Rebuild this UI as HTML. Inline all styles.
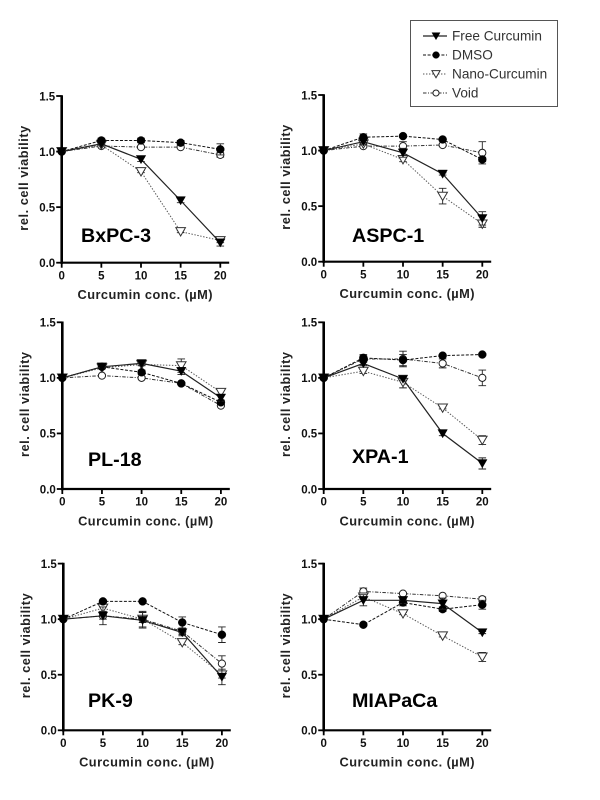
<!DOCTYPE html>
<html>
<head>
<meta charset="utf-8">
<title>Curcumin viability charts</title>
<style>
html,body{margin:0;padding:0;background:#fff;width:600px;height:800px;overflow:hidden}
svg{display:block;font-family:"Liberation Sans",sans-serif;filter:blur(0.35px)}
</style>
</head>
<body>
<svg id="figure" width="600" height="800" viewBox="0 0 600 800" xmlns="http://www.w3.org/2000/svg"></svg>
<script>
// Shared axis data
const concentrations = [0, 5, 10, 15, 20];
const xTickLabels = ["0", "5", "10", "15", "20"];
const yTicks = [0, 0.5, 1, 1.5];
const yTickLabels = ["0.0", "0.5", "1.0", "1.5"];
const seriesNames = ["Free Curcumin", "DMSO", "Nano-Curcumin", "Void"];

// BxPC-3
const bxFree = [1, 1.07, 0.93, 0.56, 0.18];
const bxDmso = [1, 1.10, 1.10, 1.08, 1.02];
const bxNano = [1, 1.06, 0.82, 0.28, 0.20];
const bxVoid = [1, 1.05, 1.04, 1.04, 0.97];
const bxFreeErr = [0, 0, 0.02, 0.02, 0.03];
const bxDmsoErr = [0, 0.02, 0.02, 0.02, 0.05];
const bxNanoErr = [0, 0, 0.01, 0.01, 0.02];
const bxVoidErr = [0, 0.01, 0.01, 0.01, 0.02];

// ASPC-1
const asFree = [1, 1.08, 0.98, 0.79, 0.39];
const asDmso = [1, 1.12, 1.13, 1.10, 0.92];
const asNano = [1, 1.06, 0.92, 0.59, 0.34];
const asVoid = [1, 1.04, 1.04, 1.05, 0.98];
const asFreeErr = [0, 0.02, 0.04, 0.01, 0.06];
const asDmsoErr = [0, 0.03, 0.01, 0.01, 0.02];
const asNanoErr = [0, 0.01, 0.02, 0.07, 0.03];
const asVoidErr = [0, 0.01, 0.04, 0.01, 0.10];

// PL-18
const plFree = [1, 1.10, 1.13, 1.06, 0.82];
const plDmso = [1, 1.10, 1.05, 0.95, 0.78];
const plNano = [1, 1.09, 1.12, 1.11, 0.87];
const plVoid = [1, 1.02, 1.00, 0.95, 0.75];
const plFreeErr = [0, 0.01, 0.02, 0.03, 0.03];
const plDmsoErr = [0, 0.01, 0.02, 0.01, 0.02];
const plNanoErr = [0, 0.01, 0.01, 0.06, 0.02];
const plVoidErr = [0, 0.01, 0.01, 0.01, 0.01];

// XPA-1
const xpFree = [1, 1.13, 0.99, 0.50, 0.23];
const xpDmso = [1, 1.18, 1.16, 1.20, 1.21];
const xpNano = [1, 1.06, 0.96, 0.73, 0.44];
const xpVoid = [1, 1.17, 1.17, 1.13, 1.00];
const xpFreeErr = [0, 0.02, 0.01, 0.02, 0.05];
const xpDmsoErr = [0, 0.03, 0.05, 0.01, 0.01];
const xpNanoErr = [0, 0.02, 0.05, 0.01, 0.04];
const xpVoidErr = [0, 0.03, 0.07, 0.04, 0.07];

// PK-9
const pkFree = [1, 1.03, 0.99, 0.88, 0.48];
const pkDmso = [1, 1.16, 1.16, 0.97, 0.86];
const pkNano = [1, 1.10, 1.00, 0.79, 0.50];
const pkVoid = [1, 1.03, 1.00, 0.89, 0.60];
const pkFreeErr = [0, 0.08, 0.07, 0.03, 0.07];
const pkDmsoErr = [0, 0.01, 0.01, 0.05, 0.07];
const pkNanoErr = [0, 0.03, 0.03, 0.02, 0.03];
const pkVoidErr = [0, 0.03, 0.07, 0.03, 0.07];

// MIAPaCa
const miFree = [1, 1.17, 1.17, 1.14, 0.88];
const miDmso = [1, 0.95, 1.15, 1.09, 1.13];
const miNano = [1, 1.20, 1.05, 0.85, 0.66];
const miVoid = [1, 1.25, 1.23, 1.21, 1.18];
const miFreeErr = [0, 0.05, 0.03, 0.05, 0.01];
const miDmsoErr = [0, 0.01, 0.03, 0.02, 0.04];
const miNanoErr = [0, 0.02, 0.01, 0.01, 0.04];
const miVoidErr = [0, 0.03, 0.01, 0.01, 0.02];

const NS = "http://www.w3.org/2000/svg";
const figure = document.getElementById("figure");

const panels = [
  {title:"BxPC-3",  left:61.7,  bottom:262.7, titleX:81,  titleY:242, values:[bxFree,bxDmso,bxNano,bxVoid], errors:[bxFreeErr,bxDmsoErr,bxNanoErr,bxVoidErr]},
  {title:"ASPC-1",  left:323.7, bottom:261.7, titleX:352, titleY:242, values:[asFree,asDmso,asNano,asVoid], errors:[asFreeErr,asDmsoErr,asNanoErr,asVoidErr]},
  {title:"PL-18",   left:62.3,  bottom:489,   titleX:88,  titleY:466, values:[plFree,plDmso,plNano,plVoid], errors:[plFreeErr,plDmsoErr,plNanoErr,plVoidErr]},
  {title:"XPA-1",   left:323.7, bottom:489,   titleX:352, titleY:463, values:[xpFree,xpDmso,xpNano,xpVoid], errors:[xpFreeErr,xpDmsoErr,xpNanoErr,xpVoidErr]},
  {title:"PK-9",    left:63.3,  bottom:730.3, titleX:88,  titleY:707, values:[pkFree,pkDmso,pkNano,pkVoid], errors:[pkFreeErr,pkDmsoErr,pkNanoErr,pkVoidErr]},
  {title:"MIAPaCa", left:323.7, bottom:730.3, titleX:352, titleY:707, values:[miFree,miDmso,miNano,miVoid], errors:[miFreeErr,miDmsoErr,miNanoErr,miVoidErr]}
];

const styles = [
  {stroke:"#222", width:1.2, dash:"", marker:"tri", fill:"#000", mstroke:"#000"},
  {stroke:"#111", width:1,   dash:"3 1.6", marker:"circle", fill:"#000", mstroke:"#000"},
  {stroke:"#555", width:1,   dash:"1.4 1.6", marker:"tri", fill:"#fff", mstroke:"#333"},
  {stroke:"#333", width:1,   dash:"3.5 1.5 1 1.5", marker:"circle", fill:"#fff", mstroke:"#222"}
];

// Painted back to front so the filled markers sit above the open ones.
const paintOrder = [3, 2, 1, 0];

function add(parent, tag, props, name) {
  const el = document.createElementNS(NS, tag);
  for (const k in props) el.setAttribute(k, props[k]);
  
  
  parent.appendChild(el);
  return el;
}

function addText(parent, str, props, name) {
  const el = add(parent, "text", props, name);
  el.textContent = str;
  return el;
}

function drawMarker(g, st, x, y, name, scale) {
  const s = scale || 1;
  if (st.marker === "tri") {
    const w = 4.8 * s, up = 3.9 * s, dn = 4.4 * s;
    add(g, "polygon", {points:`${x-w},${y-up} ${x+w},${y-up} ${x},${y+dn}`, fill:st.fill, stroke:st.mstroke, "stroke-width":st.fill === "#fff" ? 1 : 0.4}, name);
  } else {
    const r = (st.fill === "#fff" ? 3.6 : 4) * s;
    add(g, "circle", {cx:x, cy:y, r:r, fill:st.fill, stroke:st.mstroke, "stroke-width":st.fill === "#fff" ? 1 : 0.4}, name);
  }
}

function drawPanel(p) {
  const plotWidth = 158.6, plotHeight = 166.7, xEnd = 167.5;
  const xScale = v => p.left + (v / 20) * plotWidth;
  const yScale = v => p.bottom - (v / 1.5) * plotHeight;
  const slug = p.title.toLowerCase();

  const g = add(figure, "g", {}, "chart-" + slug);

  // series
  paintOrder.forEach(si => {
    const st = styles[si];
    const sname = seriesNames[si].toLowerCase().replace(/\s+/g, "-");
    const vals = p.values[si], errs = p.errors[si];
    const sg = add(g, "g", {}, "series-" + sname);
    const pts = concentrations.map((c, i) => xScale(c).toFixed(1) + "," + yScale(vals[i]).toFixed(1)).join(" ");
    const lineProps = {points:pts, fill:"none", stroke:st.stroke, "stroke-width":st.width};
    if (st.dash) lineProps["stroke-dasharray"] = st.dash;
    add(sg, "polyline", lineProps, "line-" + sname);
    concentrations.forEach((c, i) => {
      const x = xScale(c), top = yScale(vals[i] + errs[i]), bot = yScale(vals[i] - errs[i]);
      if (errs[i] > 0) {
        add(sg, "path", {d:`M${x-3.8} ${top}H${x+3.8}M${x} ${top}V${bot}M${x-3.8} ${bot}H${x+3.8}`, fill:"none", stroke:"#222", "stroke-width":0.9}, "error-bar");
      }
    });
    concentrations.forEach((c, i) => {
      drawMarker(sg, st, xScale(c), yScale(vals[i]), "point-" + sname);
    });
  });

  // axes
  add(g, "line", {x1:p.left, y1:yScale(1.5) - 0.8, x2:p.left, y2:p.bottom + 1.2, stroke:"#000", "stroke-width":2.6}, "y-axis");
  add(g, "line", {x1:p.left - 1, y1:p.bottom, x2:p.left + xEnd, y2:p.bottom, stroke:"#000", "stroke-width":2.2}, "x-axis");

  yTicks.forEach((t, i) => {
    const y = yScale(t);
    add(g, "line", {x1:p.left - 5.5, y1:y, x2:p.left, y2:y, stroke:"#000", "stroke-width":1.8}, "y-tick");
    addText(g, yTickLabels[i], {x:p.left - 6.5, y:y + 4.3, "text-anchor":"end", "font-size":"11.5", "font-weight":"bold", fill:"#111"}, "y-tick-label");
  });
  concentrations.forEach((c, i) => {
    const x = xScale(c);
    add(g, "line", {x1:x, y1:p.bottom, x2:x, y2:p.bottom + 5, stroke:"#000", "stroke-width":1.8}, "x-tick");
    addText(g, xTickLabels[i], {x:x, y:p.bottom + 16.6, "text-anchor":"middle", "font-size":"11.5", "font-weight":"bold", fill:"#111"}, "x-tick-label");
  });

  // titles
  addText(g, "Curcumin conc. (µM)", {x:p.left + 83.3, y:p.bottom + 36.3, "text-anchor":"middle", "font-size":"12.8", "font-weight":"bold", fill:"#222", textLength:"135", lengthAdjust:"spacing"}, "x-axis-title");
  const tx = p.left - 33.5, ty = p.bottom - 84.5;
  addText(g, "rel. cell viability", {x:tx, y:ty, transform:`rotate(-90 ${tx} ${ty})`, "text-anchor":"middle", "font-size":"12.8", "font-weight":"bold", fill:"#222", textLength:"105", lengthAdjust:"spacing"}, "y-axis-title");
  addText(g, p.title, {x:p.titleX, y:p.titleY, "font-size":"19.7", "font-weight":"bold", fill:"#000"}, "cell-line-label");
}

panels.forEach(drawPanel);

// legend
const legend = add(figure, "g", {}, "legend");
add(legend, "rect", {x:410.5, y:20.5, width:147, height:86, fill:"#fff", stroke:"#555", "stroke-width":1}, "legend-box");
const legendRowGap = 19;
seriesNames.forEach((n, i) => {
  const y = 36 + i * legendRowGap;
  const st = styles[i];
  const row = add(legend, "g", {}, "legend-entry");
  const props = {x1:423, y1:y, x2:447, y2:y, stroke:st.stroke, "stroke-width":st.width};
  if (st.dash) props["stroke-dasharray"] = st.dash;
  add(row, "line", props, "legend-line");
  drawMarker(row, st, 436, y, "legend-marker", 0.85);
  addText(row, n, {x:452, y:y + 4.6, "font-size":"13.6", fill:"#333"}, "legend-label");
});
</script>
</body>
</html>
